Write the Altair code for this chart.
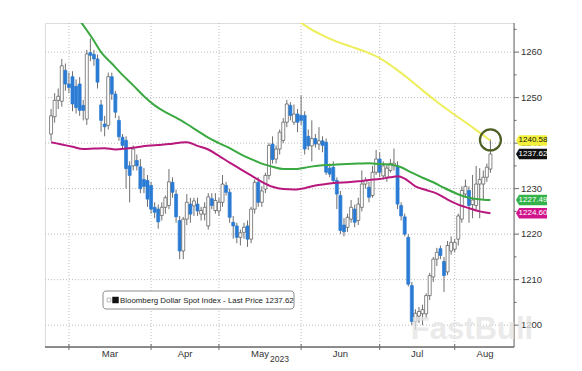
import altair as alt
import pandas as pd

# ---------------- data ----------------
title_text = "Bloomberg Dollar Spot Index - Last Price 1237.62"
month_names = ["Mar", "Apr", "May", "Jun", "Jul", "Aug"]
month_start_idx = [5, 28, 47, 70, 92, 113]          # trading-day index of month start
month_label_idx = [16.5, 37.5, 58.5, 81, 102.5, 121.5]
year_label = "2023"
y_ticks = [1200, 1210, 1220, 1230, 1240, 1250, 1260]
y_minor = [1205, 1215, 1225, 1235, 1245, 1255, 1265]

opens = [
    1242.0, 1245.8, 1249.4, 1249.2, 1256.0, 1253.0, 1254.6, 1252.5, 1253.0, 1248.3,
    1245.3, 1259.9, 1259.5, 1258.5, 1248.4, 1244.2, 1243.9, 1254.6, 1250.8, 1245.0,
    1241.3, 1240.6, 1235.0, 1235.0, 1236.2, 1234.8, 1232.0, 1231.8, 1230.7, 1225.9,
    1225.5, 1224.1, 1225.9, 1226.3, 1231.4, 1228.8, 1223.0, 1216.3, 1223.3, 1226.6,
    1226.2, 1226.6, 1224.4, 1224.4, 1221.8, 1227.8, 1225.2, 1225.1, 1227.0, 1230.7,
    1229.2, 1222.6, 1221.8, 1219.3, 1220.4, 1221.8, 1218.9, 1225.5, 1231.4, 1227.0,
    1229.9, 1232.9, 1239.8, 1236.5, 1238.7, 1240.6, 1244.6, 1248.3, 1244.6, 1246.4,
    1246.1, 1246.1, 1241.5, 1239.4, 1241.0, 1239.8, 1240.5, 1240.2, 1234.5, 1234.7,
    1231.8, 1228.5, 1222.0, 1221.5, 1223.3, 1225.5, 1223.0, 1225.9, 1231.0, 1230.3,
    1228.5, 1233.6, 1236.5, 1232.8, 1232.5, 1234.0, 1235.0, 1235.0, 1226.3, 1223.8,
    1219.3, 1208.7, 1200.8, 1202.0, 1202.5, 1202.5, 1206.5, 1210.6, 1214.5, 1216.8,
    1214.0, 1211.7, 1216.3, 1216.7, 1218.9, 1223.3, 1228.8, 1229.6, 1226.5, 1226.3,
    1231.0, 1231.0, 1232.5, 1234.3,
]
highs = [
    1247.5, 1251.0, 1252.0, 1258.5, 1257.5, 1255.5, 1255.8, 1254.0, 1254.5, 1249.5,
    1260.5, 1263.0, 1260.5, 1259.5, 1249.5, 1246.0, 1255.5, 1255.5, 1251.5, 1246.0,
    1242.0, 1241.5, 1236.0, 1239.5, 1237.5, 1236.5, 1234.5, 1233.0, 1231.5, 1227.0,
    1226.5, 1227.0, 1228.5, 1234.3, 1232.5, 1229.8, 1224.0, 1223.8, 1228.8, 1228.0,
    1228.0, 1228.0, 1226.0, 1227.0, 1229.0, 1229.0, 1229.0, 1228.0, 1233.0, 1231.5,
    1230.0, 1224.0, 1222.5, 1221.0, 1222.5, 1223.0, 1226.0, 1232.0, 1232.5, 1230.5,
    1233.5, 1240.0, 1241.5, 1239.5, 1243.0, 1245.5, 1249.5, 1249.0, 1248.5, 1247.5,
    1250.5, 1247.0, 1243.0, 1245.0, 1242.0, 1243.5, 1241.5, 1241.0, 1235.5, 1236.0,
    1232.5, 1229.5, 1223.5, 1224.5, 1227.5, 1226.5, 1228.0, 1234.0, 1232.5, 1231.5,
    1235.0, 1238.5, 1238.0, 1236.0, 1235.5, 1236.5, 1238.8, 1236.0, 1227.0, 1224.5,
    1220.0, 1209.5, 1203.5, 1204.0, 1204.5, 1207.0, 1211.5, 1215.0, 1217.0, 1217.5,
    1215.0, 1218.5, 1219.5, 1219.0, 1224.5, 1230.5, 1232.0, 1230.5, 1233.0, 1235.0,
    1234.5, 1234.0, 1235.5, 1240.9,
]
lows = [
    1240.5, 1244.5, 1247.5, 1248.0, 1251.5, 1251.0, 1247.0, 1246.5, 1246.0, 1245.0,
    1244.0, 1258.0, 1257.0, 1252.0, 1242.5, 1241.5, 1243.0, 1249.5, 1245.5, 1240.5,
    1238.8, 1230.0, 1227.0, 1234.0, 1234.0, 1229.0, 1229.0, 1226.0, 1224.5, 1223.5,
    1221.2, 1223.0, 1224.5, 1225.5, 1228.0, 1222.5, 1214.5, 1214.5, 1222.0, 1222.5,
    1224.0, 1224.0, 1223.0, 1223.0, 1221.0, 1225.5, 1224.5, 1224.0, 1226.0, 1228.5,
    1222.5, 1219.0, 1218.0, 1217.5, 1219.0, 1217.2, 1218.0, 1224.5, 1226.0, 1226.0,
    1229.0, 1232.0, 1235.5, 1235.5, 1237.5, 1240.0, 1243.5, 1245.0, 1244.0, 1242.4,
    1244.0, 1237.5, 1238.5, 1236.0, 1239.0, 1238.5, 1238.0, 1233.0, 1232.5, 1231.0,
    1225.5, 1220.0, 1219.5, 1220.5, 1222.5, 1221.5, 1222.0, 1225.0, 1230.0, 1227.0,
    1228.0, 1233.0, 1232.5, 1232.0, 1231.5, 1233.5, 1234.0, 1225.5, 1223.0, 1219.5,
    1208.5, 1200.0, 1199.0, 1200.5, 1200.0, 1201.5, 1205.5, 1209.5, 1213.0, 1214.5,
    1207.3, 1211.0, 1215.5, 1216.0, 1217.5, 1222.5, 1228.0, 1222.5, 1223.5, 1225.5,
    1223.5, 1227.5, 1231.5, 1233.5,
]
closes = [
    1246.0, 1249.4, 1250.3, 1257.0, 1253.0, 1252.2, 1248.6, 1247.8, 1247.2, 1247.2,
    1259.6, 1259.3, 1258.5, 1253.4, 1245.0, 1243.6, 1254.6, 1250.8, 1246.8, 1241.4,
    1239.5, 1234.4, 1232.9, 1238.7, 1235.0, 1230.0, 1230.5, 1227.7, 1225.5, 1224.8,
    1222.7, 1225.9, 1228.0, 1231.5, 1229.2, 1223.8, 1216.3, 1223.3, 1227.0, 1224.4,
    1227.3, 1225.1, 1225.2, 1225.9, 1228.2, 1226.3, 1227.4, 1227.0, 1231.0, 1229.2,
    1223.7, 1221.8, 1219.3, 1220.3, 1221.5, 1218.9, 1225.5, 1231.4, 1227.0, 1229.5,
    1232.9, 1239.5, 1236.4, 1238.7, 1242.4, 1244.6, 1248.6, 1246.1, 1246.4, 1244.6,
    1245.0, 1238.7, 1239.4, 1241.0, 1239.8, 1240.5, 1239.5, 1233.6, 1233.2, 1231.8,
    1228.8, 1220.8, 1220.5, 1223.7, 1225.9, 1222.6, 1226.6, 1231.0, 1231.8, 1228.1,
    1233.6, 1236.5, 1233.6, 1235.0, 1234.5, 1235.5, 1235.6, 1226.6, 1224.0, 1220.0,
    1209.0, 1200.8, 1202.6, 1203.0, 1203.4, 1206.5, 1210.9, 1214.5, 1216.0, 1215.3,
    1210.9, 1217.5, 1218.2, 1218.2, 1224.0, 1229.6, 1230.5, 1226.3, 1227.5, 1231.0,
    1232.0, 1232.5, 1234.7, 1237.62,
]

green_idx = [8, 12, 14, 17, 20, 23, 26, 29, 32, 35, 38, 41, 44, 47, 50, 53, 56, 59, 62, 65,
             68, 71, 74, 77, 80, 83, 86, 89, 92, 95, 98, 101, 104, 107, 110, 113, 116, 119, 121, 123]
green_val = [1267.0, 1262.5, 1260.0, 1257.5, 1255.0, 1252.7, 1250.3, 1248.3, 1246.8, 1245.6,
             1244.2, 1242.7, 1241.2, 1240.0, 1238.9, 1237.6, 1236.5, 1235.5, 1234.8, 1234.3,
             1234.3, 1234.6, 1235.0, 1235.2, 1235.3, 1235.4, 1235.5, 1235.6, 1235.4, 1235.3,
             1234.7, 1233.5, 1232.4, 1231.4, 1230.2, 1229.1, 1228.2, 1227.7, 1227.55, 1227.49]

magenta_idx = [0, 3, 6, 9, 12, 15, 18, 21, 24, 27, 30, 33, 36, 38, 41, 44, 47, 50, 53, 56,
               59, 62, 65, 68, 71, 74, 77, 80, 83, 86, 89, 92, 95, 97, 99, 102, 105, 108, 111,
               114, 117, 120, 123]
magenta_val = [1240.2, 1239.7, 1239.2, 1238.7, 1238.8, 1238.9, 1238.6, 1238.8, 1239.1, 1239.4,
               1239.6, 1239.8, 1240.1, 1240.2, 1239.4, 1238.6, 1237.2, 1235.7, 1234.3, 1232.9,
               1231.5, 1230.4, 1229.9, 1229.8, 1230.1, 1230.7, 1231.0, 1231.3, 1231.4, 1231.6,
               1231.9, 1232.1, 1232.5, 1232.7, 1232.2, 1230.5, 1229.7, 1228.9, 1227.6, 1226.5,
               1225.7, 1225.0, 1224.6]

yellow_idx = [69, 72, 76, 80, 84, 88, 92, 96, 100, 104, 108, 112, 116, 120, 123]
yellow_val = [1267.0, 1265.4, 1263.7, 1262.3, 1261.2, 1260.1, 1258.7, 1256.6, 1254.2, 1251.6,
              1249.1, 1246.8, 1244.6, 1242.3, 1240.58]

tag_values = [1240.58, 1237.62, 1227.49, 1224.60]
tag_texts = ["1240.58", "1237.62", "1227.49", "1224.60"]
tag_fills = ["#f3f03c", "#111111", "#33b24a", "#d0148c"]
tag_text_colors = ["#111111", "#ffffff", "#ffffff", "#ffffff"]

# ---------------- layout constants ----------------
W, H = 469, 324
FONT = "Liberation Sans"
BLUE = "#2a7bd4"
AXC = "#6b6b6b"

n = len(closes)
assert len(opens) == n and len(highs) == n and len(lows) == n

candles = pd.DataFrame({
    "i": list(range(n)),
    "open": opens, "high": highs, "low": lows, "close": closes,
})
candles["lo"] = candles[["open", "close"]].min(axis=1)
candles["hi"] = candles[["open", "close"]].max(axis=1)
candles["dir"] = ["up" if c >= o else "down" for o, c in zip(opens, closes)]

xs = alt.Scale(domain=[-0.3, 128.2], nice=False, zero=False)
ys = alt.Scale(domain=[1195.2, 1266.4], nice=False, zero=False)

def X(field):
    return alt.X(field, scale=xs, axis=None)

def Y(field):
    return alt.Y(field, scale=ys, axis=None)

one = pd.DataFrame({"k": [0]})

# horizontal dotted grid
hgrid = alt.Chart(pd.DataFrame({"v": y_ticks})).mark_rule(
    color="#bdbdbd", strokeDash=[1, 2], strokeWidth=1).encode(
    y=Y("v:Q"), x=alt.value(0), x2=alt.value(W))

months = pd.DataFrame({"start": month_start_idx, "mid": month_label_idx, "name": month_names})
vgrid = alt.Chart(months).mark_rule(color="#bdbdbd", strokeDash=[1, 2], strokeWidth=1).encode(
    x=X("start:Q"), y=alt.value(0), y2=alt.value(H))

# axes drawn as marks
x_domain = alt.Chart(one).mark_rule(color=AXC, strokeWidth=1.5).encode(
    x=alt.value(0), x2=alt.value(W), y=alt.value(H))
y_domain = alt.Chart(one).mark_rule(color=AXC, strokeWidth=1).encode(
    x=alt.value(W), y=alt.value(0), y2=alt.value(H))
xticks = alt.Chart(months).mark_rule(color=AXC, strokeWidth=1).encode(
    x=X("start:Q"), y=alt.value(H - 3), y2=alt.value(H + 3))
mlabels = alt.Chart(months).mark_text(font=FONT, fontSize=9.5, color="#333333", baseline="middle").encode(
    x=X("mid:Q"), y=alt.value(H + 7), text="name:N")
year = alt.Chart(one).mark_text(font=FONT, fontSize=8.5, color="#333333", baseline="middle").encode(
    x=alt.value(W / 2), y=alt.value(H + 11.5), text=alt.value(year_label))

ymajor = pd.DataFrame({"v": y_ticks, "lab": [str(v) for v in y_ticks]})
yticks = alt.Chart(ymajor).mark_rule(color=AXC).encode(
    y=Y("v:Q"), x=alt.value(W), x2=alt.value(W + 5))
ylabels = alt.Chart(ymajor).mark_text(font=FONT, fontSize=9.5, color="#333333", align="left",
                                      baseline="middle").encode(
    y=Y("v:Q"), x=alt.value(W + 7), text="lab:N")
minor = alt.Chart(pd.DataFrame({"v": y_minor})).mark_rule(color=AXC).encode(
    y=Y("v:Q"), x=alt.value(W), x2=alt.value(W + 2.5))

# candles
wicks = alt.Chart(candles).mark_rule(color="#6f6f6f", strokeWidth=1).encode(
    x=X("i:Q"), y=Y("low:Q"), y2="high:Q")
bodies = alt.Chart(candles).mark_bar(size=3, strokeWidth=0.7).encode(
    x=X("i:Q"), y=Y("lo:Q"), y2="hi:Q",
    fill=alt.Fill("dir:N", scale=alt.Scale(domain=["up", "down"], range=["#ffffff", BLUE]), legend=None),
    stroke=alt.Stroke("dir:N", scale=alt.Scale(domain=["up", "down"], range=["#555555", BLUE]), legend=None),
)

def ma_line(idx, vals, color):
    d = pd.DataFrame({"i": idx, "v": vals})
    return alt.Chart(d).mark_line(color=color, strokeWidth=2, clip=True, interpolate="monotone").encode(
        x=X("i:Q"), y=Y("v:Q"))

yellow = ma_line(yellow_idx, yellow_val, "#eeee5a")
green = ma_line(green_idx, green_val, "#3aa941")
magenta = ma_line(magenta_idx, magenta_val, "#b8187e")

circle = alt.Chart(pd.DataFrame({"i": [n - 1], "v": [highs[-1] - 0.2]})).mark_point(
    shape="circle", size=440, stroke="#4e5f24", strokeWidth=2.2, filled=False, opacity=1).encode(
    x=X("i:Q"), y=Y("v:Q"))

tags = pd.DataFrame({"v": tag_values, "t": tag_texts, "f": tag_fills, "tc": tag_text_colors})
tag_shape = "M-1,0 L-0.8,-0.34 L1,-0.34 L1,0.34 L-0.8,0.34 Z"
tag_bg = alt.Chart(tags).mark_point(shape=tag_shape, size=961, filled=True, opacity=1, strokeWidth=0).encode(
    x=alt.value(W + 17.5), y=Y("v:Q"),
    fill=alt.Fill("f:N", scale=None), color=alt.Color("f:N", scale=None))
tag_txt = alt.Chart(tags).mark_text(font=FONT, fontSize=8, baseline="middle", align="center").encode(
    x=alt.value(W + 19), y=Y("v:Q"), text="t:N",
    color=alt.Color("tc:N", scale=None))

LX0, LX1, LY0, LY1 = 58, 249, 268, 286
legend_box = alt.Chart(one).mark_rect(fill="white", stroke="#8c8c8c", strokeWidth=1, cornerRadius=3).encode(
    x=alt.value(LX0), x2=alt.value(LX1), y=alt.value(LY0), y2=alt.value(LY1))
legend_icon1 = alt.Chart(one).mark_point(shape="square", size=14, filled=False, color="#9a9a9a", strokeWidth=1).encode(
    x=alt.value(LX0 + 6), y=alt.value((LY0 + LY1) / 2))
legend_icon2 = alt.Chart(one).mark_point(shape="square", size=42, filled=True, color="#111111", opacity=1).encode(
    x=alt.value(LX0 + 12.5), y=alt.value((LY0 + LY1) / 2))
legend_text = alt.Chart(one).mark_text(font=FONT, fontSize=7.9, color="#222222", align="left", baseline="middle").encode(
    x=alt.value(LX0 + 17), y=alt.value((LY0 + LY1) / 2 + 0.5), text=alt.value(title_text))

watermark = alt.Chart(one).mark_text(font=FONT, fontSize=31, fontWeight="bold", color="#e4e4e4",
                                     opacity=0.75, align="center", baseline="bottom").encode(
    x=alt.value(W - 42), y=alt.value(H - 1), text=alt.value("FastBull"))

chart = alt.layer(
    hgrid, vgrid, wicks, bodies, magenta, green, yellow, circle,
    x_domain, y_domain, xticks, yticks, minor, ylabels, mlabels, year,
    legend_box, legend_icon1, legend_icon2, legend_text, tag_bg, tag_txt, watermark,
).properties(
    width=W, height=H,
    padding={"left": 37, "top": 15, "right": 58, "bottom": 16},
    autosize=alt.AutoSizeParams(type="none"),
).configure_view(stroke=None).configure(background="white")

chart.save("out.html", embed_options={"renderer": "svg", "actions": False})
